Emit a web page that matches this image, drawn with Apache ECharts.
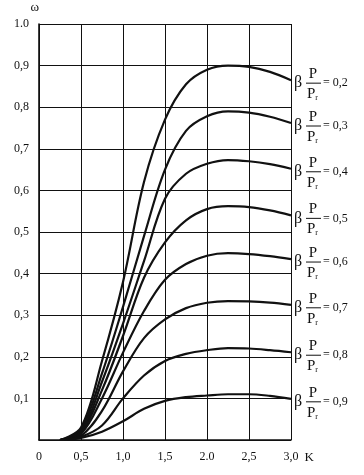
<!DOCTYPE html>
<html><head><meta charset="utf-8">
<script src="https://cdn.jsdelivr.net/npm/echarts@6/dist/echarts.min.js"></script>
<style>html,body{margin:0;padding:0;background:#fff}#c{width:364px;height:475px}</style>
</head><body><div id="c"></div>
<script>
// K values (x axis)
const kValues = [0.25, 0.5, 0.75, 1.0, 1.25, 1.5, 1.75, 2.0, 2.25, 2.5, 2.75, 3.0];
// omega values per curve, labelled by beta*P/Pr
const ratioLabels = ['0,2', '0,3', '0,4', '0,5', '0,6', '0,7', '0,8', '0,9'];
const w02 = [0, 0.03, 0.19, 0.38, 0.62, 0.77, 0.855, 0.89, 0.90, 0.897, 0.885, 0.865];
const w03 = [0, 0.025, 0.16, 0.32, 0.49, 0.65, 0.743, 0.778, 0.79, 0.787, 0.777, 0.762];
const w04 = [0, 0.02, 0.14, 0.28, 0.43, 0.58, 0.64, 0.664, 0.673, 0.67, 0.663, 0.652];
const w05 = [0, 0.018, 0.12, 0.25, 0.39, 0.475, 0.528, 0.555, 0.562, 0.56, 0.552, 0.54];
const w06 = [0, 0.015, 0.10, 0.21, 0.31, 0.385, 0.423, 0.443, 0.449, 0.447, 0.442, 0.435];
const w07 = [0, 0.01, 0.07, 0.165, 0.245, 0.29, 0.317, 0.33, 0.334, 0.333, 0.33, 0.325];
const w08 = [0, 0.008, 0.035, 0.10, 0.155, 0.19, 0.207, 0.216, 0.221, 0.22, 0.216, 0.211];
const w09 = [0, 0.005, 0.02, 0.045, 0.075, 0.094, 0.103, 0.107, 0.11, 0.11, 0.106, 0.099];
const seriesValues = [w02, w03, w04, w05, w06, w07, w08, w09];
// tick labels
const xTickLabels = ['0', '0,5', '1,0', '1,5', '2.0', '2,5', '3,0'];
const yTickLabels = ['', '0,1', '0,2', '0,3', '0,4', '0,5', '0,6', '0,7', '0,8', '0,9', '1.0'];

const SERIF = "'Liberation Serif', 'DejaVu Serif', serif";
const INK = '#111';

const chart = echarts.init(document.getElementById('c'), null, {renderer: 'canvas'});

const series = seriesValues.map((vals, i) => ({
  type: 'line',
  name: ratioLabels[i],
  data: vals.map((v, j) => [kValues[j], v]),
  smooth: 0.35,
  showSymbol: false,
  symbol: 'none',
  lineStyle: {color: INK, width: 2.2},
  silent: true,
  animation: false
}));

chart.setOption({
  animation: false,
  backgroundColor: '#fff',
  grid: {left: 39, right: 73, top: 24, bottom: 35, containLabel: false},
  xAxis: {
    type: 'value', min: 0, max: 3, interval: 0.5,
    name: 'K', nameLocation: 'end', nameGap: 12,
    nameTextStyle: {fontFamily: SERIF, fontSize: 13, color: INK, verticalAlign: 'top', padding: [11, 0, 0, 0]},
    axisLine: {show: true, lineStyle: {color: INK, width: 1.6}},
    axisTick: {show: false},
    splitLine: {show: true, lineStyle: {color: INK, width: 1}},
    axisLabel: {
      fontFamily: SERIF, fontSize: 12, color: INK, margin: 11,
      formatter: v => xTickLabels[Math.round(v / 0.5)]
    }
  },
  yAxis: {
    type: 'value', min: 0, max: 1, interval: 0.1,
    name: 'ω', nameLocation: 'end', nameGap: 10,
    nameTextStyle: {fontFamily: SERIF, fontSize: 13, color: INK, align: 'right', padding: [0, 0, 0, 0]},
    axisLine: {show: true, lineStyle: {color: INK, width: 1.6}},
    axisTick: {show: false},
    splitLine: {show: true, lineStyle: {color: INK, width: 1}},
    axisLabel: {
      fontFamily: SERIF, fontSize: 12, color: INK, margin: 10,
      formatter: v => yTickLabels[Math.round(v * 10)]
    }
  },
  series: series
});

// Curve labels: beta * P / Pr = value, placed at the right end of each curve
const graphics = seriesValues.map((vals, i) => {
  const end = chart.convertToPixel({gridIndex: 0}, [kValues[kValues.length - 1], vals[vals.length - 1]]);
  const x0 = end[0] + 3;
  const y0 = end[1] + 3;
  return {
    type: 'group', x: x0, y: y0, silent: true,
    children: [
      {type: 'text', x: 0, y: 0, style: {text: 'β', font: '16px ' + SERIF, fill: INK, verticalAlign: 'middle', align: 'left'}},
      {type: 'text', x: 19, y: -9, style: {text: 'P', font: '15px ' + SERIF, fill: INK, verticalAlign: 'middle', align: 'center'}},
      {type: 'line', shape: {x1: 12, y1: 0, x2: 27, y2: 0}, style: {stroke: INK, lineWidth: 1}},
      {type: 'text', x: 13, y: 11, style: {
        text: '{p|P}{s|r}', fill: INK, verticalAlign: 'middle', align: 'left',
        rich: {p: {fontFamily: SERIF, fontSize: 15, fill: INK}, s: {fontFamily: SERIF, fontSize: 8, fill: INK, padding: [8, 0, 0, 0]}}
      }},
      {type: 'text', x: 29, y: 0, style: {text: '= ' + ratioLabels[i], font: '12px ' + SERIF, fill: INK, verticalAlign: 'middle', align: 'left'}}
    ]
  };
});
chart.setOption({graphic: graphics});
</script>
</body></html>
